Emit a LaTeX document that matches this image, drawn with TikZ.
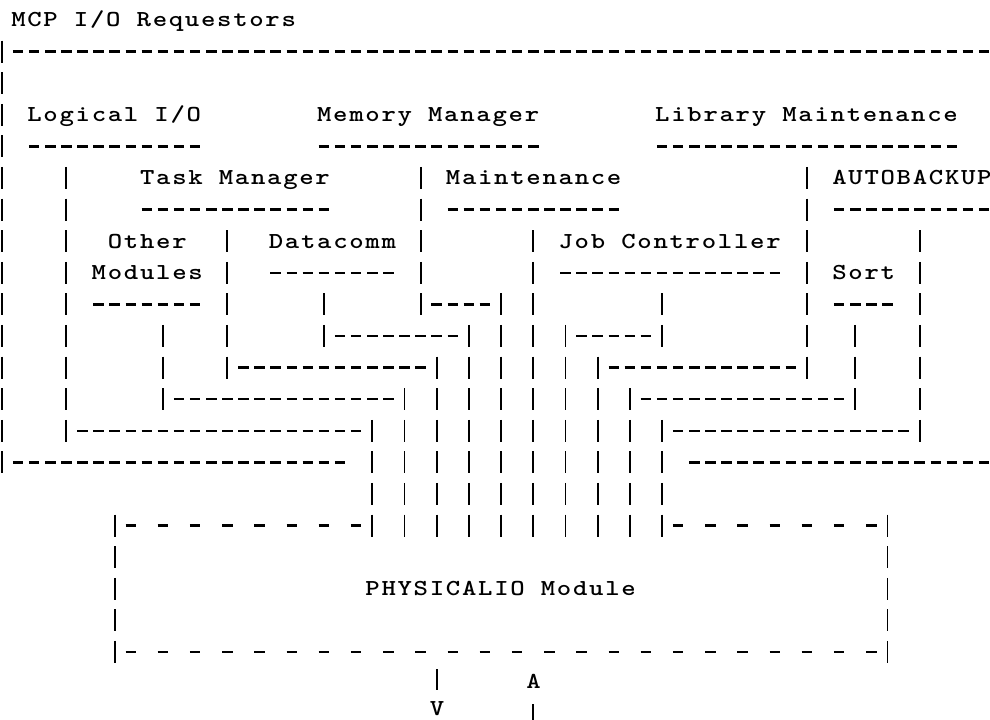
\documentclass[tikz,border=0pt]{standalone}
\usepackage{fontspec}
\newfontfamily\typefont{lmmonolt10-bold.otf}[FakeStretch=1.2, LetterSpace=7.5]
\usepackage{tikz}

\begin{document}
\begin{tikzpicture}[x=0.322cm, y=-0.632cm,
  typed/.style={font=\typefont\fontsize{13}{15}\selectfont, anchor=base west, inner sep=0pt},
  hrule/.style={line width=0.05cm, dash pattern=on 0.21cm off 0.112cm},
  gaprule/.style={line width=0.05cm, dash pattern=on 0.21cm off 0.434cm},
  vrule/.style={line width=0.038cm, dash pattern=on 0.44cm off 0.192cm}]
\useasboundingbox (-0.124,-0.633) rectangle (61.37,22.15);
\node[typed] (mcp) at (0.553,0.22) {MCP I/O Requestors};
\node[typed] (logical) at (1.553,3.22) {Logical I/O};
\node[typed] (memory) at (19.553,3.22) {Memory Manager};
\node[typed] (library) at (40.553,3.22) {Library Maintenance};
\node[typed] (task) at (8.553,5.22) {Task Manager};
\node[typed] (maint) at (27.553,5.22) {Maintenance};
\node[typed] (autobackup) at (51.553,5.22) {AUTOBACKUP};
\node[typed] (other) at (6.553,7.22) {Other};
\node[typed] (modules) at (5.553,8.22) {Modules};
\node[typed] (datacomm) at (16.553,7.22) {Datacomm};
\node[typed] (job) at (34.553,7.22) {Job Controller};
\node[typed] (sort) at (51.553,8.22) {Sort};
\node[typed] (physicalio) at (22.553,18.22) {PHYSICALIO Module};
\node[typed] (up) at (32.553,21.15) {A};
\node[typed] (down) at (26.553,22.0) {V};
\draw[hrule] (0.674,1) -- (61.326,1);
\draw[hrule] (1.674,4) -- (12.326,4);
\draw[hrule] (19.674,4) -- (33.326,4);
\draw[hrule] (40.674,4) -- (59.326,4);
\draw[hrule] (8.674,6) -- (20.326,6);
\draw[hrule] (27.674,6) -- (38.326,6);
\draw[hrule] (51.674,6) -- (61.326,6);
\draw[hrule] (16.674,8) -- (24.326,8);
\draw[hrule] (34.674,8) -- (48.326,8);
\draw[hrule] (5.674,9) -- (12.326,9);
\draw[hrule] (26.674,9) -- (30.326,9);
\draw[hrule] (51.674,9) -- (55.326,9);
\draw[hrule] (20.674,10) -- (28.326,10);
\draw[hrule] (35.674,10) -- (40.326,10);
\draw[hrule] (14.674,11) -- (26.326,11);
\draw[hrule] (37.674,11) -- (49.326,11);
\draw[hrule] (10.674,12) -- (24.326,12);
\draw[hrule] (39.674,12) -- (52.326,12);
\draw[hrule] (4.674,13) -- (22.326,13);
\draw[hrule] (41.674,13) -- (56.326,13);
\draw[hrule] (0.674,14) -- (21.326,14);
\draw[hrule] (42.674,14) -- (61.326,14);
\draw[gaprule] (7.674,16) -- (22.326,16);
\draw[gaprule] (41.674,16) -- (54.326,16);
\draw[gaprule] (7.674,20) -- (54.326,20);
\draw[vrule] (0,0.652) -- (0,14.348);
\draw[vrule] (4,4.652) -- (4,13.348);
\draw[vrule] (7,15.652) -- (7,20.348);
\draw[vrule] (10,9.652) -- (10,12.348);
\draw[vrule] (14,6.652) -- (14,11.348);
\draw[vrule] (20,8.652) -- (20,10.348);
\draw[vrule] (23,12.652) -- (23,16.348);
\draw[vrule] (25,11.652) -- (25,16.348);
\draw[vrule] (26,4.652) -- (26,9.348);
\draw[vrule] (27,10.652) -- (27,16.348);
\draw[vrule] (29,9.652) -- (29,16.348);
\draw[vrule] (31,8.652) -- (31,16.348);
\draw[vrule] (33,6.652) -- (33,16.348);
\draw[vrule] (35,9.652) -- (35,16.348);
\draw[vrule] (37,10.652) -- (37,16.348);
\draw[vrule] (39,11.652) -- (39,16.348);
\draw[vrule] (41,8.652) -- (41,10.348);
\draw[vrule] (41,12.652) -- (41,16.348);
\draw[vrule] (50,4.652) -- (50,11.348);
\draw[vrule] (53,9.652) -- (53,12.348);
\draw[vrule] (55,15.652) -- (55,20.348);
\draw[vrule] (57,6.652) -- (57,13.348);
\draw[vrule] (27,20.55) -- (27,21.2);
\draw[vrule] (33,21.65) -- (33,22.35);
\end{tikzpicture}
\end{document}
